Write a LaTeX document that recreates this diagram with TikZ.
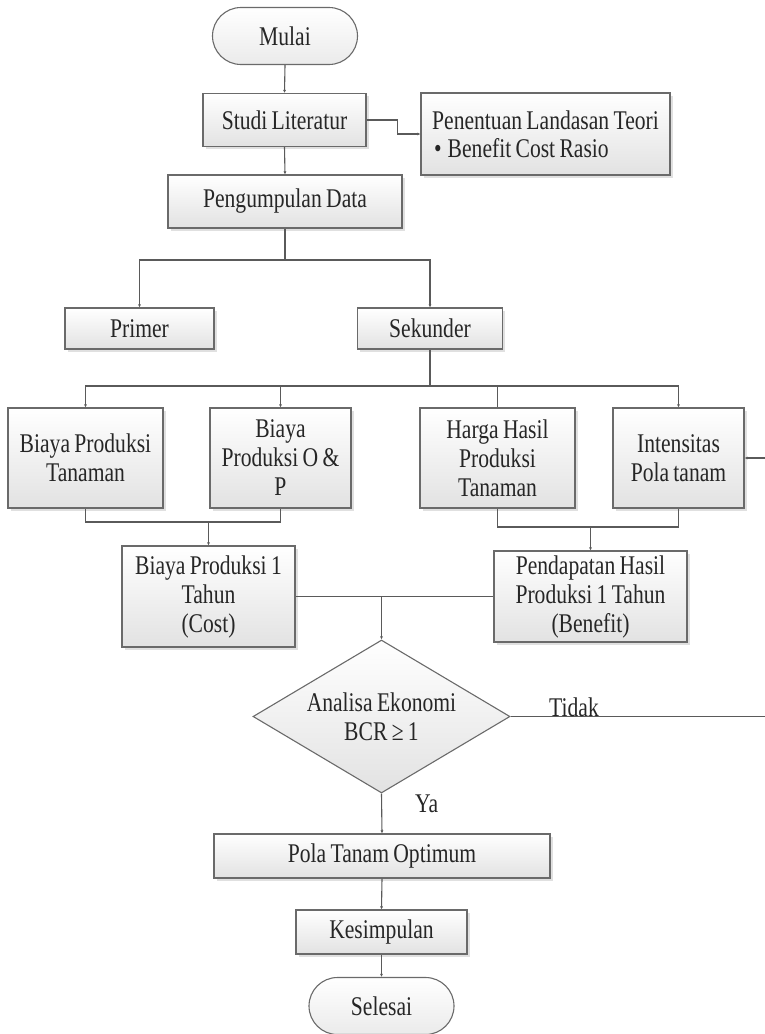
\documentclass[tikz,border=0pt]{standalone}
\usepackage{fontspec}
\setmainfont{Liberation Serif}[FakeStretch=0.8, WordSpace=0.8]
\usetikzlibrary{arrows.meta,shapes.geometric,shapes.misc,shadows}
\definecolor{edge}{HTML}{5A5A5A}
\definecolor{frame}{HTML}{6A6A6A}
\definecolor{shadebot}{HTML}{E2E2E2}
\tikzset{
  x=1pt, y=-1pt,
  every node/.style={font=\fontsize{27}{29}\selectfont, text=black!85},
  box/.style={draw=frame, line width=1.1pt, rectangle, inner sep=0pt,
    top color=white, bottom color=shadebot, align=center,
    drop shadow={shadow xshift=2.5pt, shadow yshift=-2.5pt, fill=black!20, opacity=0.6}},
  term/.style={draw=frame, line width=1.1pt, rounded rectangle, inner sep=0pt,
    top color=white, bottom color=shadebot!70, minimum width=145pt, minimum height=57pt},
  decision/.style={draw=frame, line width=1.1pt, diamond, inner sep=0pt, aspect=1.68,
    top color=white, bottom color=shadebot, align=center,
    minimum width=257pt, minimum height=153pt},
  link/.style={draw=edge, line width=1.1pt},
  arr/.style={link, -{Latex[length=3pt,width=3pt]}},
  lbl/.style={inner sep=0pt}
}
\begin{document}
\begin{tikzpicture}
\useasboundingbox (0,0) rectangle (765,1034);

% start and literature review
\node[term] (mulai) at (285,36) {Mulai};
\node[box, minimum width=163pt, minimum height=53pt] (studi) at (284.5,120) {Studi Literatur};
\node[box, minimum width=249pt, minimum height=82pt, align=left] (teori) at (545.5,134)
  {Penentuan Landasan Teori\\[-1pt]\hspace*{2pt}•\hspace{6pt}Benefit Cost Rasio};
\node[box, minimum width=234pt, minimum height=53pt] (data) at (285,201.5) {Pengumpulan Data};

% data sources
\node[box, minimum width=149pt, minimum height=41pt] (primer) at (139.5,328.5) {Primer};
\node[box, minimum width=145pt, minimum height=41pt] (sekunder) at (430,328.5) {Sekunder};

% secondary data items
\node[box, minimum width=155pt, minimum height=100pt] (bpt) at (85.5,458) {Biaya Produksi\\Tanaman};
\node[box, minimum width=141pt, minimum height=100pt] (bop) at (280.5,458) {Biaya\\Produksi O \&\\P};
\node[box, minimum width=155pt, minimum height=100pt] (harga) at (497.5,458) {Harga Hasil\\Produksi\\Tanaman};
\node[box, minimum width=131pt, minimum height=100pt] (intens) at (678.5,458) {Intensitas\\Pola tanam};

% yearly cost and benefit
\node[box, minimum width=173pt, minimum height=101pt] (cost) at (208.5,596.5) {Biaya Produksi 1\\Tahun\\(Cost)};
\node[box, minimum width=193pt, minimum height=91pt] (benefit) at (590.5,596.5) {Pendapatan Hasil\\Produksi 1 Tahun\\(Benefit)};

% decision and end
\node[decision] (bcr) at (381.5,716.5) {Analisa Ekonomi\\BCR ≥ 1};
\node[box, minimum width=336pt, minimum height=44pt] (optimum) at (382,856) {Pola Tanam Optimum};
\node[box, minimum width=171pt, minimum height=44pt] (simpul) at (381.5,932) {Kesimpulan};
\node[term] (selesai) at (381.5,1006) {Selesai};

% junction points
\coordinate (jdata) at (285,260);
\coordinate (jsek) at (430,386);
\coordinate (jcost) at (208.5,522);
\coordinate (jben) at (590.5,527);
\coordinate (jbcr) at (381.5,596.5);
\coordinate (loopa) at (780,716.5);
\coordinate (loopb) at (780,458);

% connectors
\draw[arr] (mulai.south) -- (studi.north);
\draw[arr] (studi.east) -- ++(31,0) |- (teori.west);
\draw[arr] (studi.south) -- (data.north);
\draw[link] (data.south) -- (jdata);
\draw[arr] (jdata) -| (primer.north);
\draw[arr] (jdata) -| (sekunder.north);
\draw[link] (sekunder.south) -- (jsek);
\draw[arr] (jsek) -| (bpt.north);
\draw[arr] (jsek) -| (bop.north);
\draw[link] (jsek) -| (harga.north);
\draw[arr] (jsek) -| (intens.north);
\draw[link] (bpt.south) |- (jcost) -| (bop.south);
\draw[arr] (jcost) -- (cost.north);
\draw[link] (harga.south) |- (jben) -| (intens.south);
\draw[arr] (jben) -- (benefit.north);
\draw[link] (cost.east) -- (benefit.west);
\draw[arr] (jbcr) -- (bcr.north);
\draw[arr] (bcr.south) -- (optimum.north);
\draw[arr] (bcr.east) -- (loopa) -- (loopb) -- (intens.east);
\draw[arr] (optimum.south) -- (simpul.north);
\draw[arr] (simpul.south) -- (selesai.north);

% branch labels
\node[lbl, anchor=base west] (ya) at (415,812) {Ya};
\node[lbl, anchor=base west] (tidak) at (549,716) {Tidak};
\end{tikzpicture}
\end{document}
